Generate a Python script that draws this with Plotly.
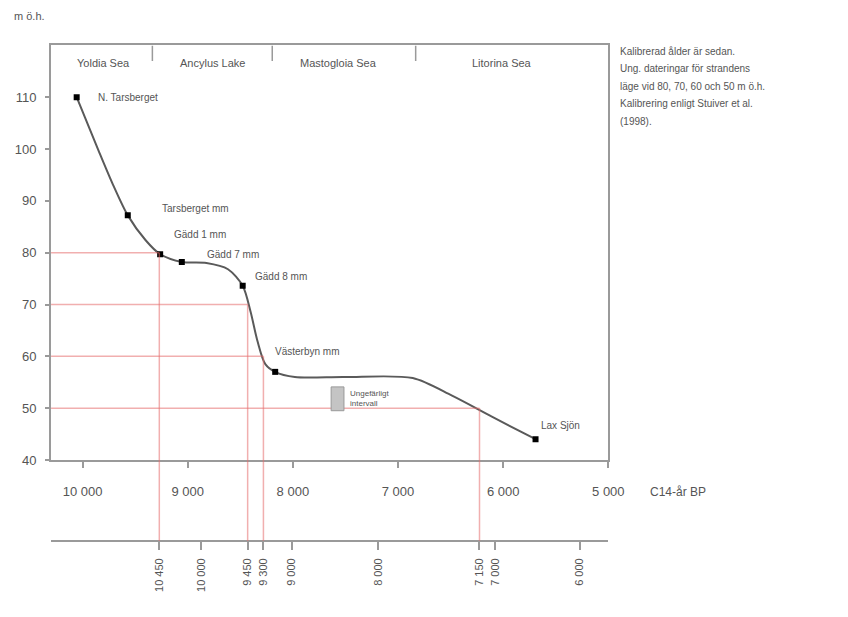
import plotly.graph_objects as go

# Shoreline displacement curve: height above sea level (m ö.h.) against C14 age (BP)
curve_c14 = [10056, 9850, 9710, 9570, 9400, 9262, 9056, 8822, 8617, 8477, 8402,
             8336, 8262, 8168, 7981, 7514, 6860, 6486, 6112, 5692]
curve_m = [110.0, 99.8, 93.1, 87.2, 82.4, 79.7, 78.2, 78.0, 76.8, 73.6, 68.6,
           62.9, 58.5, 57.0, 56.0, 56.0, 55.8, 52.4, 48.4, 44.0]

# Dated sites along the curve
site_names = ["N. Tarsberget", "Tarsberget mm", "Gädd 1 mm", "Gädd 7 mm",
              "Gädd 8 mm", "Västerbyn mm", "Lax Sjön"]
site_c14 = [10056, 9570, 9262, 9056, 8477, 8168, 5692]
site_m = [110.0, 87.2, 79.7, 78.2, 73.6, 57.0, 44.0]

# Baltic stages along the top of the chart
stage_names = ["Yoldia Sea", "Ancylus Lake", "Mastogloia Sea", "Litorina Sea"]
stage_centres = [9800, 8760, 7570, 6010]
stage_bounds = [9336, 8196, 6832]

levels_m = [80, 70, 60, 50]
levels_c14 = [9270, 8430, 8280, 6225]
levels_cal = ["10 450", "9 450", "9 300", "7 150"]

# Calibrated-year scale placed at the matching C14 positions
cal_labels = ["10 000", "9 000", "8 000", "7 000", "6 000"]
cal_c14 = [8870, 8010, 7190, 6075, 5270]

c14_ticks = [10000, 9000, 8000, 7000, 6000, 5000]
c14_labels = ["10 000", "9 000", "8 000", "7 000", "6 000", "5 000"]
m_ticks = [40, 50, 60, 70, 80, 90, 100, 110]

note_lines = ["Kalibrerad ålder är sedan.",
              "Ung. dateringar för strandens",
              "läge vid 80, 70, 60 och 50 m ö.h.",
              "Kalibrering enligt Stuiver et al.",
              "(1998)."]

FONT = "Liberation Sans, Arial, sans-serif"
TXT = "#555555"
AX = "#9a9a9a"
RED = "rgba(230,110,110,0.55)"

W, H = 848, 617
x_dom = [52 / W, 620 / W]
y_dom = [1 - 466 / H, 1 - 46 / H]
x_range = [10300, 5000]

fig = go.Figure()

fig.add_trace(go.Scatter(
    x=curve_c14, y=curve_m, mode="lines",
    line=dict(color="#5a5a5a", width=2, shape="spline", smoothing=0.8),
    hoverinfo="skip", showlegend=False))

fig.add_trace(go.Scatter(
    x=site_c14, y=site_m, mode="markers",
    marker=dict(symbol="square", size=6, color="#000000"),
    showlegend=False))

# invisible trace to activate the calibrated axis
fig.add_trace(go.Scatter(x=cal_c14, y=[None] * len(cal_c14), xaxis="x2",
                         mode="markers", showlegend=False, hoverinfo="skip"))

shapes = []
# red construction lines: level -> curve -> calibrated axis
for m, c in zip(levels_m, levels_c14):
    shapes.append(dict(type="line", xref="x", yref="y", x0=x_range[0], x1=c,
                       y0=m, y1=m, line=dict(color=RED, width=1.5)))
    shapes.append(dict(type="line", xref="x", yref="paper", x0=c, x1=c,
                       y0=1 - 548 / H, y1=y_dom[0] + (m - 40) / 80 * (y_dom[1] - y_dom[0]),
                       line=dict(color=RED, width=1.5)))
# stage dividers along the top border
for b in stage_bounds:
    shapes.append(dict(type="line", xref="x", yref="y", x0=b, x1=b, y0=120, y1=117,
                       line=dict(color=AX, width=1.5)))
# uncertainty symbol
shapes.append(dict(type="rect", xref="x", yref="y", x0=7636, x1=7514, y0=49.5, y1=54.1,
                   fillcolor="#c4c4c4", line=dict(color="#999999", width=1)))
fig.update_layout(shapes=shapes)

ann = []
offsets = [(19, 0), (32, 7), (12, 20), (23, 8), (10, 9), (-2, 20), (3, 14)]
for name, c, m, (dx, dy) in zip(site_names, site_c14, site_m, offsets):
    ann.append(dict(x=c, y=m, xref="x", yref="y", text=name, showarrow=False,
                    xanchor="left", yanchor="middle", xshift=dx, yshift=dy,
                    font=dict(size=10, color=TXT, family=FONT)))
for name, c in zip(stage_names, stage_centres):
    ann.append(dict(x=c, y=116.6, xref="x", yref="y", text=name, showarrow=False,
                    xanchor="center", yanchor="middle",
                    font=dict(size=11, color=TXT, family=FONT)))
ann.append(dict(x=7480, y=52.9, xref="x", yref="y", text="Ungefärligt", showarrow=False,
                xanchor="left", yanchor="middle", font=dict(size=8, color=TXT, family=FONT)))
ann.append(dict(x=7480, y=50.8, xref="x", yref="y", text="intervall", showarrow=False,
                xanchor="left", yanchor="middle", font=dict(size=8, color=TXT, family=FONT)))
ann.append(dict(x=12 / W, y=1 - 16 / H, xref="paper", yref="paper", text="m ö.h.",
                showarrow=False, xanchor="left", yanchor="middle",
                font=dict(size=11, color=TXT, family=FONT)))
ann.append(dict(x=660 / W, y=1 - 498 / H, xref="paper", yref="paper", text="C14-år BP",
                showarrow=False, xanchor="left", yanchor="middle",
                font=dict(size=12, color=TXT, family=FONT)))
for i, line in enumerate(note_lines):
    ann.append(dict(x=630 / W, y=1 - (52 + 17.7 * i) / H, xref="paper", yref="paper",
                    text=line, showarrow=False, xanchor="left", yanchor="middle",
                    font=dict(size=10, color=TXT, family=FONT)))
fig.update_layout(annotations=ann)

fig.update_layout(
    width=W, height=H, margin=dict(l=0, r=0, t=0, b=0), autosize=False,
    paper_bgcolor="white", plot_bgcolor="white", showlegend=False,
    font=dict(family=FONT, color=TXT),
    xaxis=dict(domain=x_dom, range=x_range, tickvals=c14_ticks, ticktext=c14_labels,
               showgrid=False, zeroline=False, showline=True, linecolor=AX, linewidth=2,
               mirror=True, ticks="outside", ticklen=6, tickcolor=AX, tickwidth=2,
               ticklabelstandoff=12, tickfont=dict(size=13, color=TXT, family=FONT)),
    yaxis=dict(domain=y_dom, range=[40, 120], tickvals=m_ticks,
               showgrid=False, zeroline=False, showline=True, linecolor=AX, linewidth=2,
               mirror=True, ticks="outside", ticklen=4, tickcolor=AX, tickwidth=2,
               ticklabelstandoff=6, tickfont=dict(size=13, color=TXT, family=FONT)),
    # calibrated-year scale below the chart, sharing the C14 positions
    xaxis2=dict(overlaying="x", anchor="free", position=1 - 548 / H, side="bottom",
                range=x_range,
                tickvals=cal_c14 + levels_c14, ticktext=cal_labels + levels_cal,
                tickangle=-90, showgrid=False, zeroline=False, showline=True,
                linecolor=AX, linewidth=2, ticks="outside", ticklen=8, tickcolor=AX,
                tickwidth=2, ticklabelstandoff=4,
                tickfont=dict(size=11, color=TXT, family=FONT)),
)

fig.write_html("out.html")
